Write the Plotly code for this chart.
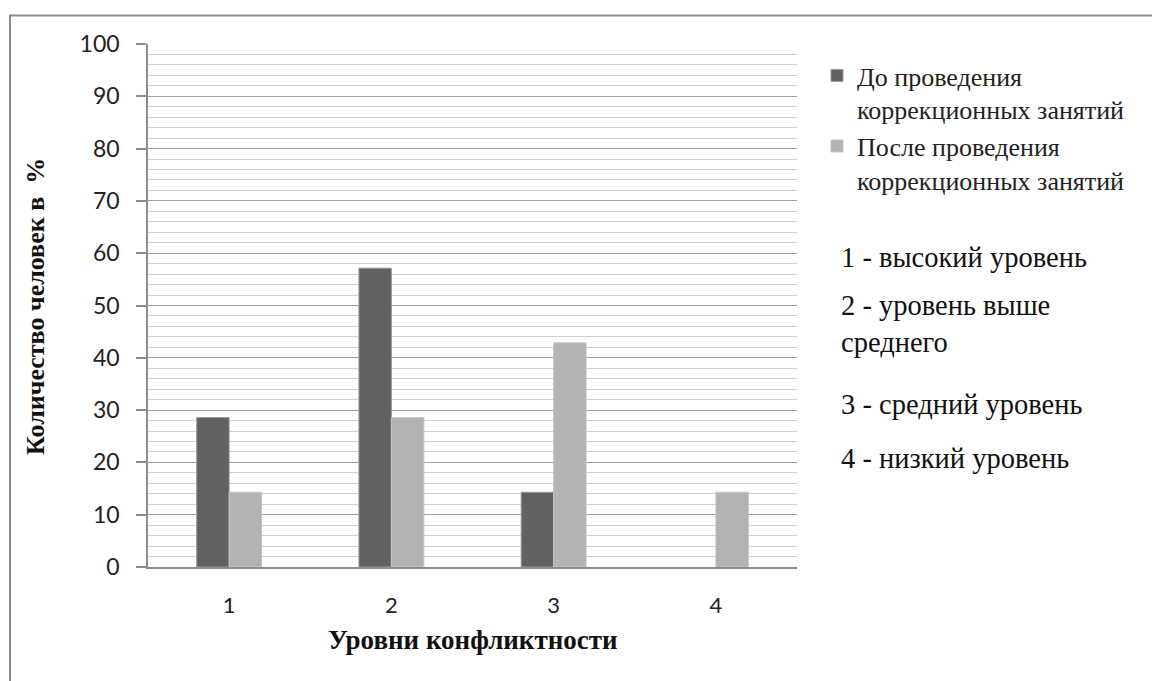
import plotly.graph_objects as go

categories = ["1", "2", "3", "4"]
before_values = [28.57, 57.14, 14.29, 0]
after_values = [14.29, 28.57, 42.86, 14.29]
series_names = ["До проведения<br>коррекционных занятий", "После проведения<br>коррекционных занятий"]
level_notes = ["1 - высокий уровень", "2 - уровень выше<br>среднего", "3 - средний уровень", "4 - низкий уровень"]
y_ticks = list(range(0, 101, 10))

W, H = 1152, 681
L, R, T, B = 148, 797, 44, 567
pw, ph = R - L, B - T

def px(x):
    return (x - L) / pw

def py(y):
    return (B - y) / ph

def edge_widths(vals):
    return [1 if v > 0 else 0 for v in vals]

fig = go.Figure()
fig.add_trace(go.Bar(x=categories, y=before_values, name=series_names[0], legendgroup="a",
                     marker=dict(color="#616161", line=dict(color="#9a9a9a", width=edge_widths(before_values)))))
fig.add_trace(go.Bar(x=categories, y=after_values, name=series_names[1], legendgroup="b",
                     marker=dict(color="#b3b3b3", line=dict(color="#c4c4c4", width=edge_widths(after_values)))))

fig.update_layout(
    width=W, height=H,
    margin=dict(l=L, r=W - R, t=T, b=H - B, autoexpand=False),
    paper_bgcolor="white", plot_bgcolor="white",
    barmode="group", bargap=0.6, bargroupgap=0,
    showlegend=True,
    legend=dict(x=px(817), y=py(52), xanchor="left", yanchor="top",
                font=dict(family="Liberation Serif", size=26, color="#222"),
                valign="top", tracegroupgap=0, itemwidth=30,
                bgcolor="rgba(0,0,0,0)"),
    font=dict(family="Lato", color="#222"),
)

fig.update_xaxes(type="category", showline=True, linecolor="#8c8c8c", linewidth=1.5,
                 showgrid=False, ticks="", tickfont=dict(family="Lato", size=22, color="#222"),
                 ticklabelstandoff=18, fixedrange=True)
fig.update_yaxes(range=[0, 100], tickvals=y_ticks, showline=True, linecolor="#8c8c8c", linewidth=1.5,
                 ticks="outside", ticklen=10, tickcolor="#8c8c8c", tickwidth=1.5,
                 gridcolor="#a0a0a0", gridwidth=1,
                 minor=dict(dtick=2, showgrid=True, gridcolor="#d0d0d0", gridwidth=1, ticks=""),
                 tickfont=dict(family="Lato", size=23, color="#222"),
                 ticklabelstandoff=12, fixedrange=True, zeroline=False)

annotations = [
    dict(text="<b>Количество человек в  %</b>", x=px(35), y=py(307), xref="paper", yref="paper",
         textangle=-90, showarrow=False, font=dict(family="Liberation Serif", size=26, color="#111"),
         xanchor="center", yanchor="middle"),
    dict(text="<b>Уровни конфликтности</b>", x=px(473), y=py(640), xref="paper", yref="paper",
         showarrow=False, font=dict(family="Liberation Serif", size=27, color="#111"),
         xanchor="center", yanchor="middle"),
]
note_y = [257, 323.5, 404, 458]
for t, yy in zip(level_notes, note_y):
    annotations.append(dict(text=t, x=px(839), y=py(yy), xref="paper", yref="paper",
                            showarrow=False, align="left", xanchor="left", yanchor="middle",
                            font=dict(family="Liberation Serif", size=28.5, color="#111")))
fig.update_layout(annotations=annotations)

fig.add_shape(type="rect", xref="paper", yref="paper",
              x0=px(10), x1=px(1170), y0=py(700), y1=py(15.5),
              line=dict(color="#8c8c8c", width=2), layer="above")

fig.write_html("out.html")
